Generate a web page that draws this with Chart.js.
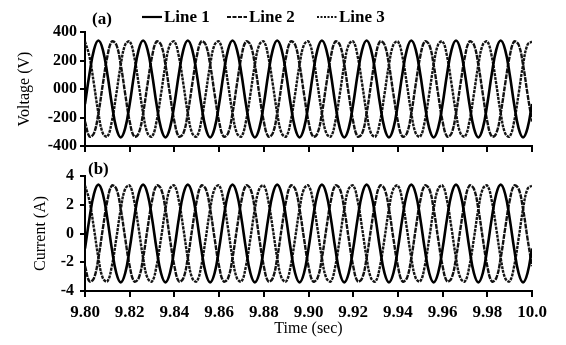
<!DOCTYPE html>
<html lang="en">
<head>
<meta charset="UTF-8">
<title>Voltage and current waveforms</title>
<script src="https://cdn.jsdelivr.net/npm/chart.js@4.4.0/dist/chart.umd.min.js"></script>
<style>
  * { margin: 0; padding: 0; box-sizing: border-box; }
  body { background: #fff; width: 566px; height: 345px; overflow: hidden; position: relative; }
  .panel { position: absolute; left: 0; width: 566px; }
  #panelA { top: 0; height: 160px; }
  #panelB { top: 155px; height: 190px; }
</style>
</head>
<body>
<div class="panel" id="panelA"><canvas id="voltageChart" width="566" height="160"></canvas></div>
<div class="panel" id="panelB"><canvas id="currentChart" width="566" height="190"></canvas></div>
<script>
// time samples (sec)
const time = [
  9.800, 9.802, 9.804, 9.806, 9.808, 9.810, 9.812, 9.814, 9.816, 9.818,
  9.820, 9.822, 9.824, 9.826, 9.828, 9.830, 9.832, 9.834, 9.836, 9.838,
  9.840, 9.842, 9.844, 9.846, 9.848, 9.850, 9.852, 9.854, 9.856, 9.858,
  9.860, 9.862, 9.864, 9.866, 9.868, 9.870, 9.872, 9.874, 9.876, 9.878,
  9.880, 9.882, 9.884, 9.886, 9.888, 9.890, 9.892, 9.894, 9.896, 9.898,
  9.900, 9.902, 9.904, 9.906, 9.908, 9.910, 9.912, 9.914, 9.916, 9.918,
  9.920, 9.922, 9.924, 9.926, 9.928, 9.930, 9.932, 9.934, 9.936, 9.938,
  9.940, 9.942, 9.944, 9.946, 9.948, 9.950, 9.952, 9.954, 9.956, 9.958,
  9.960, 9.962, 9.964, 9.966, 9.968, 9.970, 9.972, 9.974, 9.976, 9.978,
  9.980, 9.982, 9.984, 9.986, 9.988, 9.990, 9.992, 9.994, 9.996, 9.998,
  10.000
];

// (a) voltage, V
const voltage1 = [
  -105, 105, 275, 340, 275, 105, -105, -275, -340, -275,
  -105, 105, 275, 340, 275, 105, -105, -275, -340, -275,
  -105, 105, 275, 340, 275, 105, -105, -275, -340, -275,
  -105, 105, 275, 340, 275, 105, -105, -275, -340, -275,
  -105, 105, 275, 340, 275, 105, -105, -275, -340, -275,
  -105, 105, 275, 340, 275, 105, -105, -275, -340, -275,
  -105, 105, 275, 340, 275, 105, -105, -275, -340, -275,
  -105, 105, 275, 340, 275, 105, -105, -275, -340, -275,
  -105, 105, 275, 340, 275, 105, -105, -275, -340, -275,
  -105, 105, 275, 340, 275, 105, -105, -275, -340, -275,
  -105
];
const voltage2 = [
  -228, -333, -311, -170, 36, 228, 333, 311, 170, -36,
  -228, -333, -311, -170, 36, 228, 333, 311, 170, -36,
  -228, -333, -311, -170, 36, 228, 333, 311, 170, -36,
  -228, -333, -311, -170, 36, 228, 333, 311, 170, -36,
  -228, -333, -311, -170, 36, 228, 333, 311, 170, -36,
  -228, -333, -311, -170, 36, 228, 333, 311, 170, -36,
  -228, -333, -311, -170, 36, 228, 333, 311, 170, -36,
  -228, -333, -311, -170, 36, 228, 333, 311, 170, -36,
  -228, -333, -311, -170, 36, 228, 333, 311, 170, -36,
  -228, -333, -311, -170, 36, 228, 333, 311, 170, -36,
  -228
];
const voltage3 = [
  333, 228, 36, -170, -311, -333, -228, -36, 170, 311,
  333, 228, 36, -170, -311, -333, -228, -36, 170, 311,
  333, 228, 36, -170, -311, -333, -228, -36, 170, 311,
  333, 228, 36, -170, -311, -333, -228, -36, 170, 311,
  333, 228, 36, -170, -311, -333, -228, -36, 170, 311,
  333, 228, 36, -170, -311, -333, -228, -36, 170, 311,
  333, 228, 36, -170, -311, -333, -228, -36, 170, 311,
  333, 228, 36, -170, -311, -333, -228, -36, 170, 311,
  333, 228, 36, -170, -311, -333, -228, -36, 170, 311,
  333, 228, 36, -170, -311, -333, -228, -36, 170, 311,
  333
];

// (b) current, A
const current1 = [
  -1.05, 1.05, 2.75, 3.4, 2.75, 1.05, -1.05, -2.75, -3.4, -2.75,
  -1.05, 1.05, 2.75, 3.4, 2.75, 1.05, -1.05, -2.75, -3.4, -2.75,
  -1.05, 1.05, 2.75, 3.4, 2.75, 1.05, -1.05, -2.75, -3.4, -2.75,
  -1.05, 1.05, 2.75, 3.4, 2.75, 1.05, -1.05, -2.75, -3.4, -2.75,
  -1.05, 1.05, 2.75, 3.4, 2.75, 1.05, -1.05, -2.75, -3.4, -2.75,
  -1.05, 1.05, 2.75, 3.4, 2.75, 1.05, -1.05, -2.75, -3.4, -2.75,
  -1.05, 1.05, 2.75, 3.4, 2.75, 1.05, -1.05, -2.75, -3.4, -2.75,
  -1.05, 1.05, 2.75, 3.4, 2.75, 1.05, -1.05, -2.75, -3.4, -2.75,
  -1.05, 1.05, 2.75, 3.4, 2.75, 1.05, -1.05, -2.75, -3.4, -2.75,
  -1.05, 1.05, 2.75, 3.4, 2.75, 1.05, -1.05, -2.75, -3.4, -2.75,
  -1.05
];
const current2 = [
  -2.27, -3.33, -3.11, -1.7, 0.36, 2.27, 3.33, 3.11, 1.7, -0.36,
  -2.27, -3.33, -3.11, -1.7, 0.36, 2.27, 3.33, 3.11, 1.7, -0.36,
  -2.27, -3.33, -3.11, -1.7, 0.36, 2.27, 3.33, 3.11, 1.7, -0.36,
  -2.27, -3.33, -3.11, -1.7, 0.36, 2.27, 3.33, 3.11, 1.7, -0.36,
  -2.27, -3.33, -3.11, -1.7, 0.36, 2.27, 3.33, 3.11, 1.7, -0.36,
  -2.27, -3.33, -3.11, -1.7, 0.36, 2.27, 3.33, 3.11, 1.7, -0.36,
  -2.27, -3.33, -3.11, -1.7, 0.36, 2.27, 3.33, 3.11, 1.7, -0.36,
  -2.27, -3.33, -3.11, -1.7, 0.36, 2.27, 3.33, 3.11, 1.7, -0.36,
  -2.27, -3.33, -3.11, -1.7, 0.36, 2.27, 3.33, 3.11, 1.7, -0.36,
  -2.27, -3.33, -3.11, -1.7, 0.36, 2.27, 3.33, 3.11, 1.7, -0.36,
  -2.27
];
const current3 = [
  3.33, 2.27, 0.36, -1.7, -3.11, -3.33, -2.27, -0.36, 1.7, 3.11,
  3.33, 2.27, 0.36, -1.7, -3.11, -3.33, -2.27, -0.36, 1.7, 3.11,
  3.33, 2.27, 0.36, -1.7, -3.11, -3.33, -2.27, -0.36, 1.7, 3.11,
  3.33, 2.27, 0.36, -1.7, -3.11, -3.33, -2.27, -0.36, 1.7, 3.11,
  3.33, 2.27, 0.36, -1.7, -3.11, -3.33, -2.27, -0.36, 1.7, 3.11,
  3.33, 2.27, 0.36, -1.7, -3.11, -3.33, -2.27, -0.36, 1.7, 3.11,
  3.33, 2.27, 0.36, -1.7, -3.11, -3.33, -2.27, -0.36, 1.7, 3.11,
  3.33, 2.27, 0.36, -1.7, -3.11, -3.33, -2.27, -0.36, 1.7, 3.11,
  3.33, 2.27, 0.36, -1.7, -3.11, -3.33, -2.27, -0.36, 1.7, 3.11,
  3.33, 2.27, 0.36, -1.7, -3.11, -3.33, -2.27, -0.36, 1.7, 3.11,
  3.33
];

const seriesNames = ['Line 1', 'Line 2', 'Line 3'];
const timeTicks = [9.80, 9.82, 9.84, 9.86, 9.88, 9.90, 9.92, 9.94, 9.96, 9.98, 10.0];
const timeTickLabels = ['9.80', '9.82', '9.84', '9.86', '9.88', '9.90', '9.92', '9.94', '9.96', '9.98', '10.0'];
const voltageTicks = [-400, -200, 0, 200, 400];
const voltageTickLabels = ['-400', '-200', '000', '200', '400'];
const currentTicks = [-4, -2, 0, 2, 4];
const currentTickLabels = ['-4', '-2', '0', '2', '4'];

const SERIF = '"Liberation Serif", "Times New Roman", serif';
Chart.defaults.font.family = SERIF;
Chart.defaults.color = '#000';

const lineStyles = [
  { color: '#000', width: 2.6, dash: [] },
  { color: '#111', width: 2.4, dash: [5, 1] },
  { color: '#151515', width: 2.4, dash: [3, 1] }
];

function makeDatasets(series) {
  return series.map((values, i) => ({
    label: seriesNames[i],
    data: time.map((t, k) => ({ x: t, y: values[k] })),
    borderColor: lineStyles[i].color,
    borderWidth: lineStyles[i].width,
    borderDash: lineStyles[i].dash,
    pointRadius: 0,
    tension: 0.4,
    fill: false
  }));
}

// panel tag "(a)"/"(b)" and the line legend
const annotate = {
  id: 'annotate',
  afterDraw(chart, args, opts) {
    const ctx = chart.ctx;
    ctx.save();
    ctx.fillStyle = '#000';
    ctx.textBaseline = 'middle';
    ctx.font = 'bold 17px ' + SERIF;
    if (opts.tag) ctx.fillText(opts.tag, opts.tagX, opts.tagY);
    if (opts.legend) {
      chart.data.datasets.forEach((ds, i) => {
        const x = opts.legendX[i];
        const y = opts.legendY;
        ctx.strokeStyle = ds.borderColor;
        ctx.lineWidth = i === 0 ? 2.2 : 1.8;
        ctx.setLineDash(i === 1 ? [4, 1.5] : i === 2 ? [2, 1.5] : []);
        ctx.beginPath();
        ctx.moveTo(x, y);
        ctx.lineTo(x + 20, y);
        ctx.stroke();
        ctx.setLineDash([]);
        ctx.fillText(ds.label, x + 22, y + 1);
      });
    }
    ctx.restore();
  }
};

function axisOptions(ticks, labels, min, max, title, yWidth, tickPad) {
  return {
    x: {
      type: 'linear',
      min: 9.80,
      max: 10.0,
      afterBuildTicks: s => { s.ticks = timeTicks.map(v => ({ value: v })); },
      ticks: {
        display: false,
        callback: (v, i) => timeTickLabels[i]
      },
      grid: { drawOnChartArea: false, drawTicks: true, tickLength: 6, color: '#000', lineWidth: 2 },
      border: { display: true, color: '#000', width: 2 },
      afterFit: s => { s.height = 14; }
    },
    y: {
      min: min,
      max: max,
      afterBuildTicks: s => { s.ticks = ticks.map(v => ({ value: v })); },
      ticks: {
        padding: tickPad,
        font: { size: 16, weight: 'bold' },
        callback: (v, i) => labels[i]
      },
      title: { display: true, text: title, font: { size: 16 }, padding: 0 },
      grid: { drawOnChartArea: false, drawTicks: true, tickLength: 5, color: '#000', lineWidth: 2 },
      border: { display: true, color: '#000', width: 2 },
      afterFit: s => { s.width = yWidth; }
    }
  };
}

const voltageScales = axisOptions(voltageTicks, voltageTickLabels, -400, 400, 'Voltage (V)', 70, 3);

new Chart(document.getElementById('voltageChart'), {
  type: 'line',
  data: { datasets: makeDatasets([voltage1, voltage2, voltage3]) },
  options: {
    responsive: false,
    animation: false,
    layout: { padding: { top: 32, right: 34, left: 15, bottom: 0 } },
    plugins: {
      legend: { display: false },
      tooltip: { enabled: false },
      annotate: { tag: '(a)', tagX: 92, tagY: 20, legend: true, legendX: [142, 227, 317], legendY: 17 }
    },
    scales: voltageScales
  },
  plugins: [annotate]
});

const currentScales = axisOptions(currentTicks, currentTickLabels, -4, 4, 'Current (A)', 54, 6);
currentScales.x.ticks = {
  display: true,
  padding: 5,
  maxRotation: 0,
  autoSkip: false,
  font: { size: 17, weight: 'bold' },
  callback: (v, i) => timeTickLabels[i]
};
currentScales.x.title = { display: true, text: 'Time (sec)', font: { size: 16 }, padding: { top: 0, bottom: 7 } };
currentScales.x.afterFit = s => { s.height = 54; };

new Chart(document.getElementById('currentChart'), {
  type: 'line',
  data: { datasets: makeDatasets([current1, current2, current3]) },
  options: {
    responsive: false,
    animation: false,
    layout: { padding: { top: 21, right: 34, left: 31, bottom: 0 } },
    plugins: {
      legend: { display: false },
      tooltip: { enabled: false },
      annotate: { tag: '(b)', tagX: 88, tagY: 15 }
    },
    scales: currentScales
  },
  plugins: [annotate]
});
</script>
</body>
</html>
